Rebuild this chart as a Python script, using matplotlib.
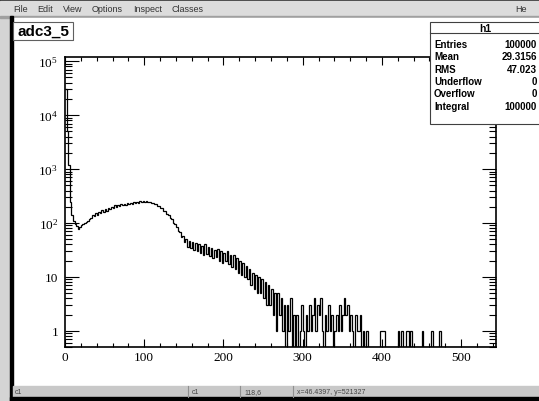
import matplotlib.pyplot as plt
import numpy as np
from matplotlib.patches import Rectangle

plt.rcParams['mathtext.fontset'] = 'custom'
plt.rcParams['mathtext.rm'] = 'Liberation Serif'
plt.rcParams['mathtext.it'] = 'Liberation Serif:italic'

# Histogram data: 2-unit bins, dense part from 0 to 290, sparse tail after
bin_width = 2
x_max = 544
dense_counts = [
    30000, 5000, 1200, 250, 140, 110, 95, 88, 78, 84,
    92, 96, 100, 104, 110, 118, 125, 140, 132, 150,
    142, 160, 152, 172, 160, 182, 170, 192, 180, 202,
    190, 212, 200, 218, 206, 225, 212, 228, 216, 234,
    222, 236, 224, 240, 230, 248, 236, 254, 244, 258,
    246, 255, 240, 250, 236, 238, 224, 226, 208, 206,
    190, 188, 170, 168, 148, 142, 124, 120, 100, 94,
    84, 70, 68, 55, 58, 44, 50, 36, 46, 34,
    44, 32, 42, 30, 40, 28, 38, 26, 40, 27,
    36, 24, 35, 22, 32, 23, 33, 20, 30, 18,
    28, 20, 30, 17, 26, 15, 25, 14, 22, 12,
    20, 11, 18, 10, 16, 9, 14, 7, 12, 6,
    11, 5, 10, 5, 9, 4, 8, 3, 7, 3,
    6, 2, 5, 1, 5, 2, 4, 1, 3, 0,
    3, 1, 4, 0, 2,
]
tail_edges = [292, 296, 298, 300, 304, 306, 308, 310, 312, 314, 316, 318,
              320, 322, 324, 328, 330, 332, 334, 336, 340, 342, 344, 346,
              348, 350, 352, 354, 356, 358, 360, 362, 366, 368, 370, 372,
              376, 380, 398, 400, 402, 420, 424, 430, 432, 436, 450, 462,
              472]
tail_counts = [2, 1, 3, 1, 2, 1, 3, 1, 2, 4, 1, 3,
               2, 4, 1, 2, 1, 3, 1, 2, 1, 2, 1, 3,
               1, 2, 4, 2, 3, 1, 2, 1, 2, 1, 1, 2,
               1, 1, 1, 1, 1, 1, 1, 1, 1, 1, 1, 1,
               1]

y_ticks = [1, 10, 100, 1000, 10000, 100000]
y_labels = ['1', '10', '$10^{2}$', '$10^{3}$', '$10^{4}$', '$10^{5}$']
x_ticks = [0, 100, 200, 300, 400, 500]

hist_title = 'adc3_5'
stats_header = 'h1'
stats_names = ['Entries', 'Mean', 'RMS', 'Underflow', 'Overflow', 'Integral']
stats_values = ['100000', '29.3156', '47.023', '0', '0', '100000']
menu_items = ['File', 'Edit', 'View', 'Options', 'Inspect', 'Classes']
status_cells = ['c1', 'c1', '118,6', 'x=46.4397, y=521327']

W, H = 539, 402
fig = plt.figure(figsize=(W / 100, H / 100), dpi=100)
fig.patch.set_facecolor('#d4d4d4')

# window chrome in pixel coordinates
bg = fig.add_axes([0, 0, 1, 1], zorder=0)
bg.set_xlim(0, W)
bg.set_ylim(H, 0)
bg.axis('off')
bg.add_patch(Rectangle((0, 0), W, 2, color='#303030'))
bg.add_patch(Rectangle((0, 2), W, 15, color='#dcdcdc'))
bg.add_patch(Rectangle((0, 17), W, 1.5, color='#a0a0a0'))
bg.add_patch(Rectangle((13, 18.5), W - 13, 369, color='white'))
bg.add_patch(Rectangle((10, 17), 3, 385, color='black'))
bg.add_patch(Rectangle((13, 387), W - 13, 11, color='#c8c8c8'))
bg.add_patch(Rectangle((10, 398), W - 10, 4, color='black'))
for xm, item in zip([13, 37, 63, 92, 133, 172], menu_items):
    bg.text(xm, 9.5, item, fontsize=6.5, color='#333333', va='center', ha='left',
            family='Liberation Sans')
bg.text(515, 9.5, 'He', fontsize=6.5, color='#333333', va='center', ha='left',
        family='Liberation Sans')
for xs in [188, 240, 293]:
    bg.plot([xs, xs], [387, 398], color='#909090', lw=0.8)
for xt, cell in zip([15, 192, 244, 297], status_cells):
    bg.text(xt, 393, cell, fontsize=5, color='#444444', va='center', ha='left',
            family='Liberation Sans')

# histogram frame
ax = fig.add_axes([65 / W, (H - 348) / H, (496 - 65) / W, (348 - 58) / H], zorder=2)
ax.set_facecolor('none')
ymin = 0.5
counts = np.zeros(x_max // bin_width)
counts[:len(dense_counts)] = dense_counts
counts[np.array(tail_edges) // bin_width] = tail_counts
edges = np.arange(0, x_max + bin_width, bin_width)
ax.stairs(np.maximum(counts, ymin), edges, color='black', lw=0.9, baseline=None)

ax.set_yscale('log')
ax.set_ylim(ymin, 1.2e5)
ax.set_xlim(0, x_max)
ax.set_yticks(y_ticks)
ax.set_yticklabels(y_labels)
ax.set_xticks(x_ticks)
ax.set_xticklabels([str(v) for v in x_ticks])
ax.set_xticks(np.arange(0, x_max, 20), minor=True)
ax.yaxis.set_minor_locator(plt.matplotlib.ticker.LogLocator(base=10, subs=np.arange(2, 10)))
ax.yaxis.set_minor_formatter(plt.NullFormatter())
ax.tick_params(which='both', direction='in', top=True, right=True, width=0.8,
               labelsize=9.5, colors='black')
ax.tick_params(axis='x', which='major', length=6, pad=3)
ax.tick_params(axis='x', which='minor', length=3)
ax.tick_params(axis='y', which='major', length=10, pad=5)
ax.tick_params(axis='y', which='minor', length=5)
for lab in ax.get_xticklabels() + ax.get_yticklabels():
    lab.set_family('Liberation Serif')
for s in ax.spines.values():
    s.set_linewidth(1.2)

# title and stats boxes drawn over the frame
ov = fig.add_axes([0, 0, 1, 1], zorder=3)
ov.set_xlim(0, W)
ov.set_ylim(H, 0)
ov.axis('off')
ov.add_patch(Rectangle((14, 23.5), 60, 18.5, facecolor='#808080', edgecolor='none'))
ov.add_patch(Rectangle((13, 22.5), 59.5, 18, facecolor='white', edgecolor='#606060', lw=0.8))
ov.text(43, 31.5, hist_title, fontsize=11, fontweight='bold', ha='center', va='center',
        family='Liberation Sans')
ov.add_patch(Rectangle((430, 23), 112, 102, facecolor='white', edgecolor='#404040', lw=0.8))
ov.plot([430, 539], [34, 34], color='#404040', lw=0.8)
ov.text(485, 28.5, stats_header, fontsize=7.5, fontweight='bold', ha='center', va='center',
        family='Liberation Sans')
for i, (name, val) in enumerate(zip(stats_names, stats_values)):
    yy = 45 + i * 12.3
    ov.text(434, yy, name, fontsize=7, fontweight='bold', ha='left', va='center',
            family='Liberation Sans')
    ov.text(537, yy, val, fontsize=7, fontweight='bold', ha='right', va='center',
            family='Liberation Sans')

fig.savefig('out.png', dpi=100)
